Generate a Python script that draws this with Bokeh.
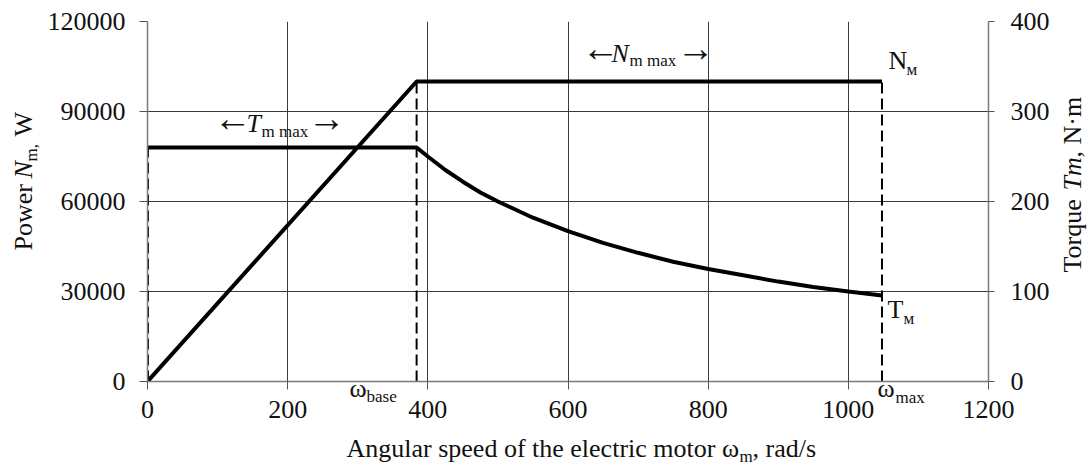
import math

from bokeh.embed import file_html
from bokeh.models import (BasicTickFormatter, Column, FixedTicker, GridBox,
                          Label, LinearAxis, Range1d)
from bokeh.plotting import figure
from bokeh.resources import INLINE

# ---- data -------------------------------------------------------------
x_ticks = [0, 200, 400, 600, 800, 1000, 1200]
power_ticks = [0, 30000, 60000, 90000, 120000]
torque_ticks = [0, 100, 200, 300, 400]

base_speed = 384      # rad/s, end of the constant-torque zone
max_speed = 1048      # rad/s
power_max = 100000    # W
torque_max = 260      # N*m

# motor power N_m, W
speed_power = [0, 384, 1048]
power_w = [0, 100000, 100000]

# motor torque T_m, N*m
speed_torque = [0, 384, 400, 425, 450, 475, 500, 550, 600, 650, 700, 750,
                800, 850, 900, 950, 1000, 1048]
torque_nm = [260, 260, 250, 235, 222, 210, 200, 182, 167, 154, 143, 133,
             125, 118, 111, 105, 100, 95.5]

# ---- layout -----------------------------------------------------------
W, H = 1092, 468
LEFT, RIGHT, TOP, BOTTOM = 147, 104, 21, 87
FONT = "Liberation Serif"
INK = "#111111"

p = figure(width=W, height=H, output_backend="svg", toolbar_location=None,
           tools="", x_range=Range1d(0, 1200), y_range=Range1d(0, 120000),
           min_border_left=LEFT, min_border_right=RIGHT,
           min_border_top=TOP, min_border_bottom=BOTTOM)
p.outline_line_color = None
p.extra_y_ranges = {"torque": Range1d(0, 400)}

right_axis = LinearAxis(y_range_name="torque",
                        ticker=FixedTicker(ticks=torque_ticks))
p.add_layout(right_axis, "right")

p.xaxis.ticker = FixedTicker(ticks=x_ticks)
p.yaxis[0].ticker = FixedTicker(ticks=power_ticks)
p.yaxis[0].formatter = BasicTickFormatter(use_scientific=False)

for ax in p.axis:
    ax.axis_line_color = "#7a7a7a"
    ax.axis_line_width = 1.5
    ax.major_tick_line_color = "#555555"
    ax.major_tick_in = 0
    ax.major_tick_out = 8
    ax.minor_tick_line_color = None
    ax.major_label_text_font = FONT
    ax.major_label_text_font_size = "26px"
    ax.major_label_text_color = INK
    ax.major_label_standoff = 14
    ax.axis_label = None
right_axis.major_tick_out = 6
right_axis.major_label_standoff = 16
p.xaxis.major_label_standoff = 11

p.xgrid.ticker = FixedTicker(ticks=x_ticks)
p.ygrid.ticker = FixedTicker(ticks=power_ticks)
p.grid.grid_line_color = "#3a3a3a"
p.grid.grid_line_width = 1

# dashed guide lines at zero, base and maximum speed
p.segment(x0=[0], y0=[0], x1=[0], y1=[torque_max], y_range_name="torque",
          line_color="black", line_width=3, line_dash="11 5")
p.segment(x0=[base_speed, max_speed], y0=[0, 0],
          x1=[base_speed, max_speed], y1=[power_max, power_max],
          line_color="black", line_width=2, line_dash="11 5")

# characteristics
p.line(speed_power, power_w, line_color="black", line_width=4)
p.line(speed_torque, torque_nm, y_range_name="torque",
       line_color="black", line_width=4)

# ---- text layer: a transparent canvas over the whole chart -------------
t = figure(width=W, height=H, output_backend="svg", toolbar_location=None,
           tools="", x_range=Range1d(0, W), y_range=Range1d(0, H),
           x_axis_type=None, y_axis_type=None, min_border=0)
t.grid.visible = False
t.outline_line_color = None
t.background_fill_color = None
t.border_fill_color = None

BASELINE_LIFT = 0.36   # em; puts the alphabetic baseline on the given pixel


def note(text, px, py, size=26, style="normal", angle=0.0, font=FONT):
    lift = BASELINE_LIFT * size
    px -= lift * math.sin(angle)
    py -= lift * math.cos(angle)
    t.add_layout(Label(x=px, y=H - py, text=text,
                       text_font=font, text_font_size=f"{size}px",
                       text_font_style=style, text_color=INK,
                       text_align="left", text_baseline="alphabetic",
                       angle=angle))


SUB = 17
ARROW = 38
up = math.pi / 2

# x axis title
note("Angular speed of the electric motor \u03c9", 346, 457)
note("m", 739, 462, SUB)
note(", rad/s", 752, 457)

# left axis title (rotated)
note("Power ", 32, 250, angle=up)
note("N", 32, 178, style="italic", angle=up)
note("m,", 37, 161, SUB, angle=up)
note("W", 32, 136, angle=up)

# right axis title (rotated)
note("Torque ", 1081, 272, angle=up)
note("Tm", 1081, 190, style="italic", angle=up)
note(", N\u00b7m", 1081, 157, angle=up)

# zone markers
note("\u2190", 213, 131, ARROW)
note("T", 246, 132, style="italic")
note("m max", 261, 137, SUB)
note("\u2192", 307, 131, ARROW)

note("\u2190", 581, 61, ARROW)
note("N", 611, 62, style="italic")
note("m max", 629, 66, SUB)
note("\u2192", 676, 61, ARROW)

# curve names
note("N", 888, 69)
note("\u043c", 906, 75, SUB)
note("T", 887, 318)
note("\u043c", 903, 324, SUB)

# characteristic speeds
note("\u03c9", 349, 397)
note("base", 366, 402, SUB)
note("\u03c9", 877, 397)
note("max", 895, 403, SUB)

# both canvases share one grid cell, the text layer on top
root = GridBox(children=[(p, 0, 0), (Column(children=[t]), 0, 0)])

open("out.html", "w").write(file_html(root, INLINE))
